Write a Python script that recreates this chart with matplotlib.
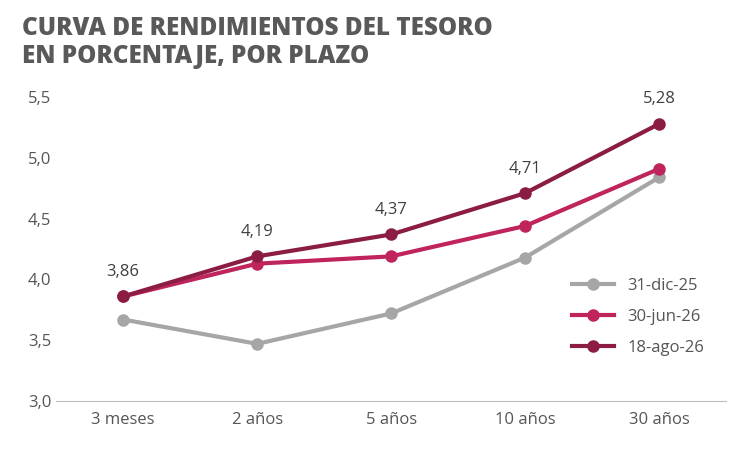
import matplotlib
matplotlib.use("Agg")
import matplotlib.pyplot as plt
from matplotlib.ticker import FuncFormatter

plazos = ["3 meses", "2 años", "5 años", "10 años", "30 años"]
dic25 = [3.67, 3.47, 3.72, 4.18, 4.84]
jun26 = [3.86, 4.13, 4.19, 4.44, 4.91]
ago26 = [3.86, 4.19, 4.37, 4.71, 5.28]

plt.rcParams['font.family'] = ['Open Sans', 'DejaVu Sans']
txt = "#555555"

fig = plt.figure(figsize=(7.5, 4.5), dpi=100)
ax = fig.add_axes([0.075, 0.109, 0.893, 0.675])
x = range(len(plazos))
ax.plot(x, dic25, color="#a6a6a6", lw=3, marker="o", ms=8, label="31-dic-25")
ax.plot(x, jun26, color="#c0245c", lw=3, marker="o", ms=8, label="30-jun-26")
ax.plot(x, ago26, color="#8b1d45", lw=3, marker="o", ms=8, label="18-ago-26")
for i, v in enumerate(ago26):
    ax.annotate(f"{v:.2f}".replace(".", ","), (i, v), xytext=(0, 12),
                textcoords="offset points", ha="center", va="bottom",
                fontsize=12, color="#404040")

ax.set_xlim(-0.5, 4.5)
ax.set_ylim(3.0, 5.5)
ax.set_yticks([3.0, 3.5, 4.0, 4.5, 5.0, 5.5])
ax.yaxis.set_major_formatter(FuncFormatter(lambda v, p: f"{v:.1f}".replace(".", ",")))
ax.set_xticks(list(x))
ax.set_xticklabels(plazos)
ax.tick_params(axis="both", colors=txt, labelsize=12, length=0)
ax.tick_params(axis="x", pad=8)
for s in ["top", "right", "left"]:
    ax.spines[s].set_visible(False)
ax.spines["bottom"].set_color("#bfbfbf")

ax.legend(loc="lower right", bbox_to_anchor=(0.99, 0.1), frameon=False,
          fontsize=12, labelcolor=txt, handlelength=2.5, labelspacing=0.9)

fig.text(0.03, 0.965, "CURVA DE RENDIMIENTOS DEL TESORO\nEN PORCENTAJE, POR PLAZO",
         ha="left", va="top", fontsize=17.5, fontweight="heavy", color="#595959",
         linespacing=1.15)

fig.savefig("out.png")
